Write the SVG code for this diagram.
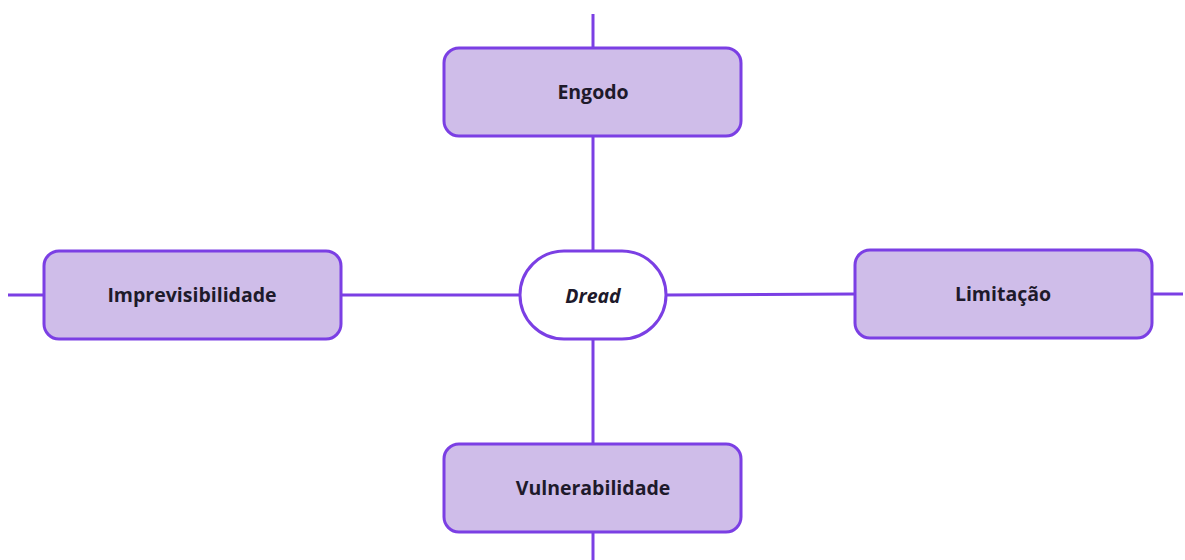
<svg xmlns="http://www.w3.org/2000/svg" width="1185" height="560" viewBox="0 0 1185 560">
  <style>
    .box { fill: #cfbde9; stroke: #7b3fe4; stroke-width: 3; }
    .hub { fill: #ffffff; stroke: #7b3fe4; stroke-width: 3; }
    .link { stroke: #7b3fe4; stroke-width: 3; fill: none; }
    .label { font-family: "Open Sans", "Noto Sans", sans-serif; font-weight: 700; font-size: 19.5px; fill: #1e1a2b; text-anchor: middle; dominant-baseline: central; }
    .hub-label { font-style: italic; }
  </style>
  <rect width="1185" height="560" fill="#ffffff"/>
  <g id="connectors">
    <line class="link" x1="593" y1="14" x2="593" y2="48"/>
    <line class="link" x1="593" y1="137" x2="593" y2="251"/>
    <line class="link" x1="593" y1="339" x2="593" y2="444"/>
    <line class="link" x1="593" y1="532" x2="593" y2="560"/>
    <line class="link" x1="8" y1="295" x2="44" y2="295"/>
    <line class="link" x1="341" y1="295" x2="520" y2="295"/>
    <line class="link" x1="666" y1="295" x2="854" y2="294"/>
    <line class="link" x1="1152" y1="294" x2="1183" y2="294"/>
  </g>
  <g id="engodo">
    <rect class="box" x="444" y="48" width="297" height="88" rx="15"/>
    <text class="label" x="593" y="91">Engodo</text>
  </g>
  <g id="dread">
    <rect class="hub" x="520" y="251" width="146" height="88" rx="44"/>
    <text class="label hub-label" x="593" y="295">Dread</text>
  </g>
  <g id="imprevisibilidade">
    <rect class="box" x="44" y="251" width="297" height="88" rx="15"/>
    <text class="label" x="192" y="294">Imprevisibilidade</text>
  </g>
  <g id="limitacao">
    <rect class="box" x="855" y="250" width="297" height="88" rx="15"/>
    <text class="label" x="1003" y="293">Limitação</text>
  </g>
  <g id="vulnerabilidade">
    <rect class="box" x="444" y="444" width="297" height="88" rx="15"/>
    <text class="label" x="593" y="487">Vulnerabilidade</text>
  </g>
</svg>
